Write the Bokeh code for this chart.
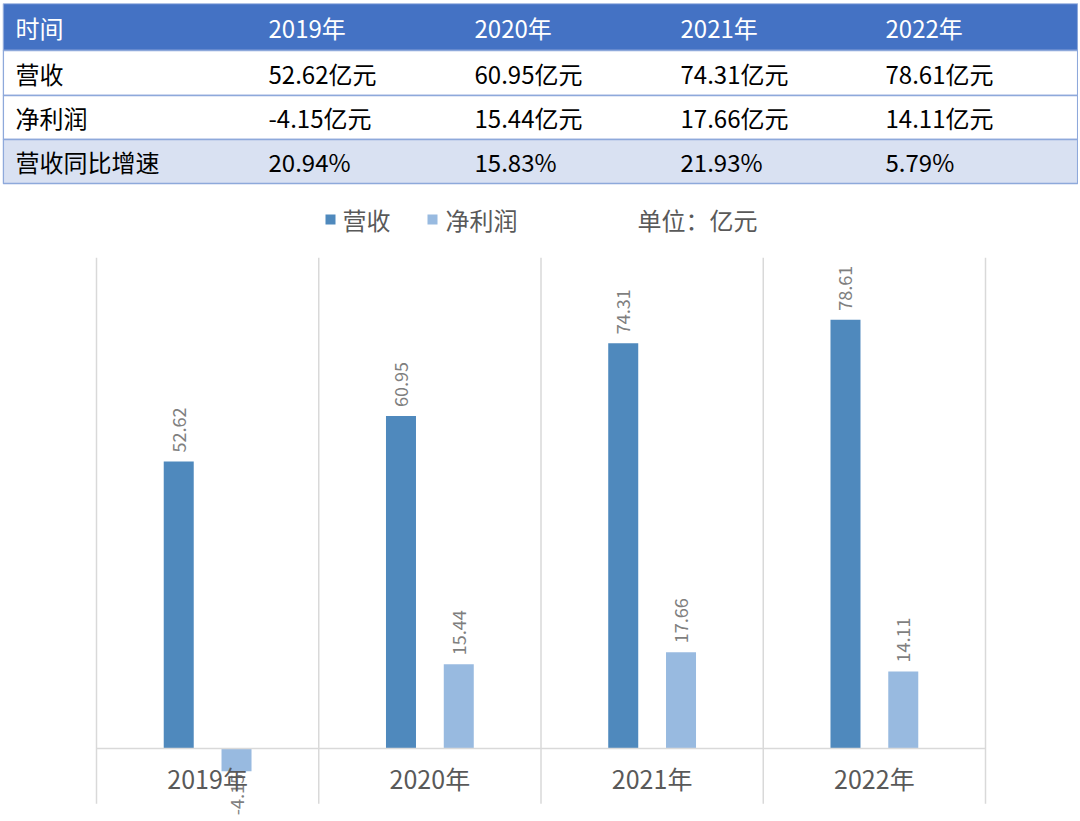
from bokeh.plotting import figure
from bokeh.layouts import column
from bokeh.models import Range1d
from bokeh.core.properties import value
from bokeh.embed import file_html
from bokeh.resources import INLINE
import math

# ---------------- data ----------------
years = ["2019年", "2020年", "2021年", "2022年"]
revenue = [52.62, 60.95, 74.31, 78.61]
profit = [-4.15, 15.44, 17.66, 14.11]
growth = ["20.94%", "15.83%", "21.93%", "5.79%"]
row_labels = ["时间", "营收", "净利润", "营收同比增速"]
series_names = ["营收", "净利润"]
unit_text = "单位：亿元"

FONT = "Noto Sans CJK SC"
C_REV = "#4f89bd"
C_PRO = "#98bae0"

# ---------------- table + legend figure (page pixel coordinates) ----------------
t = figure(width=1076, height=254, x_range=Range1d(2, 1078), y_range=Range1d(257, 3),
           output_backend="svg", toolbar_location=None, min_border=0)
t.axis.visible = False
t.grid.visible = False
t.outline_line_color = None
t.background_fill_color = "white"

row_top = [3, 50, 95, 139]
row_bot = [50, 95, 139, 183]
row_fill = ["#4472c4", "#ffffff", "#ffffff", "#d9e1f2"]
t.quad(left=2.8, right=1077.2, top=row_top, bottom=row_bot, fill_color=row_fill,
       line_color="#8ea9db", line_width=1.5)

col_x = [15, 268, 474, 680, 885]
row_y = [27, 73, 117, 161]
rows = [
    [row_labels[0]] + years,
    [row_labels[1]] + [f"{v:.2f}亿元" for v in revenue],
    [row_labels[2]] + [f"{v:.2f}亿元" for v in profit],
    [row_labels[3]] + growth,
]
for r, cells in enumerate(rows):
    color = "white" if r == 0 else "black"
    t.text(x=col_x, y=[row_y[r]] * len(cells), text=cells, text_font=value(FONT),
           text_font_size="24px", text_color=color, text_align="left", text_baseline="middle")

# legend
t.scatter(x=[330, 432], y=[219, 219], size=10, marker="square",
          fill_color=[C_REV, C_PRO], line_color=None)
t.text(x=[342, 445, 637], y=[219, 219, 219], text=series_names + [unit_text],
       text_font=value(FONT), text_font_size="24px", text_color="#595959",
       text_align="left", text_baseline="middle")

# ---------------- bar chart ----------------
PX = 5.455  # pixels per unit
CW = 222.25  # pixels per category
c = figure(width=1076, height=560, x_range=Range1d(-94 / CW, (1076 - 94) / CW),
           y_range=Range1d(-12.65, 90.01), output_backend="svg", toolbar_location=None,
           min_border=0)
c.axis.visible = False
c.grid.visible = False
c.outline_line_color = None
c.background_fill_color = "white"

n = len(years)
centers = [i + 0.5 for i in range(n)]

# vertical gridlines at category boundaries
bounds = list(range(n + 1))
c.segment(x0=bounds, x1=bounds, y0=[-10.12] * (n + 1), y1=[90.01] * (n + 1),
          line_color="#d9d9d9", line_width=1.5)

rev_x = [x - 0.13 for x in centers]
pro_x = [x + 0.13 for x in centers]
c.vbar(x=rev_x, top=revenue, bottom=0, width=0.135, fill_color=C_REV, line_color=None)
c.vbar(x=pro_x, top=profit, bottom=0, width=0.135, fill_color=C_PRO, line_color=None)

# zero line
c.segment(x0=[0], x1=[n], y0=[0], y1=[0], line_color="#d9d9d9", line_width=1.5)

# value labels
all_x = rev_x + pro_x
all_v = revenue + profit
pos = [(x, v) for x, v in zip(all_x, all_v) if v >= 0]
neg = [(x, v) for x, v in zip(all_x, all_v) if v < 0]
c.text(x=[p[0] for p in pos], y=[p[1] + 9 / PX for p in pos], text=[f"{p[1]:.2f}" for p in pos],
       angle=math.pi / 2, text_font=value(FONT), text_font_size="18px", text_color="#7f7f7f",
       text_align="left", text_baseline="middle")
c.text(x=[p[0] for p in neg], y=[p[1] - 3 / PX for p in neg], text=[f"{p[1]:.2f}" for p in neg],
       angle=math.pi / 2, text_font=value(FONT), text_font_size="18px", text_color="#7f7f7f",
       text_align="right", text_baseline="middle")

# category labels
c.text(x=centers, y=[-5.5] * n, text=years, text_font=value(FONT), text_font_size="25px",
       text_color="#595959", text_align="center", text_baseline="middle")

layout = column(t, c, spacing=0, styles={"margin-left": "2px", "margin-top": "3px"})

open("out.html", "w").write(file_html(layout, INLINE))
